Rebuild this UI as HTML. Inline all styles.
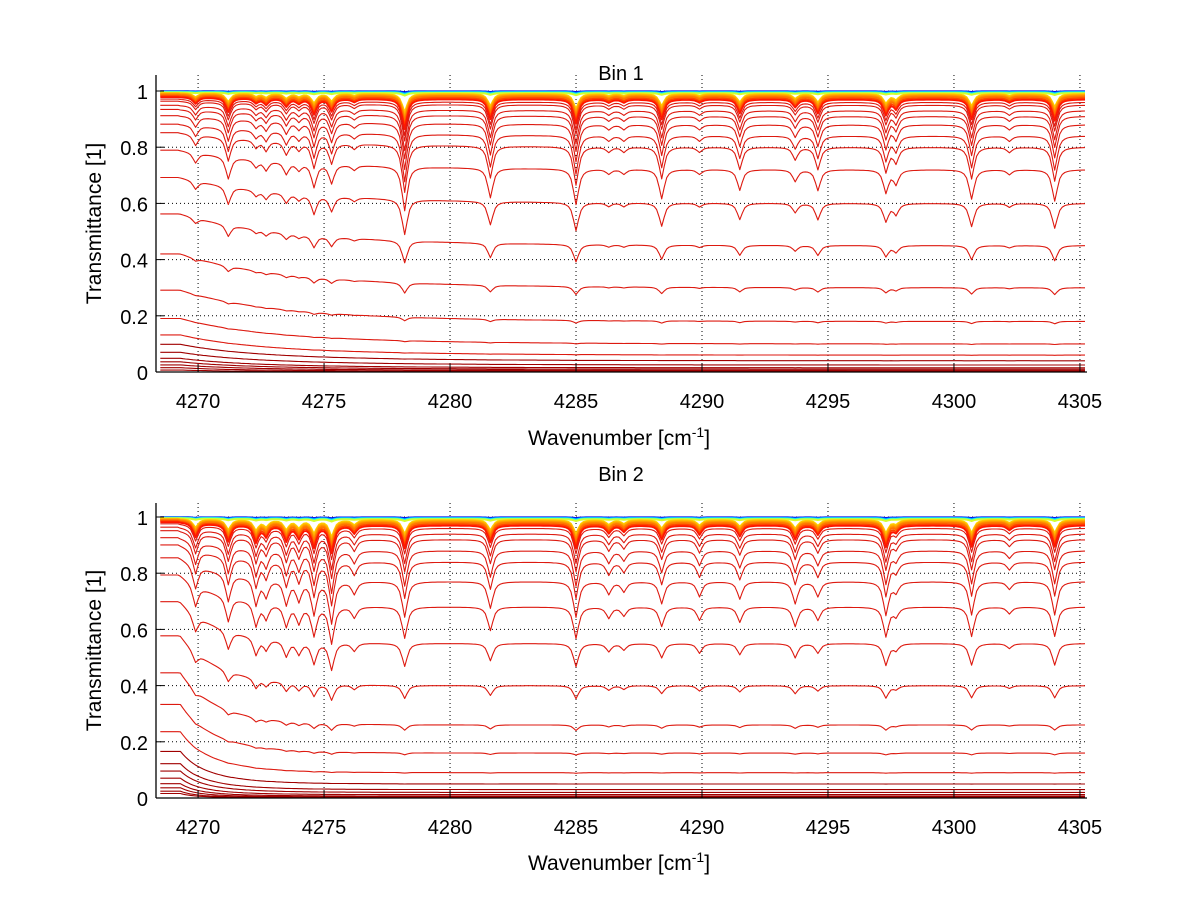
<!DOCTYPE html>
<html><head><meta charset="utf-8"><style>
body{margin:0;background:#fff;}
svg text{font-family:"Liberation Sans",sans-serif;fill:#000;}
</style></head><body>
<svg id="c" width="1200" height="901" viewBox="0 0 1200 901" xmlns="http://www.w3.org/2000/svg">
<rect width="1200" height="901" fill="#fff"/>
</svg>
<script>
// ---- data ----
const xTicks = [4270,4275,4280,4285,4290,4295,4300,4305];
const yTicks = [0,0.2,0.4,0.6,0.8,1];
const yTickLabels = ["0","0.2","0.4","0.6","0.8","1"];
const lineCenters = [4269.9,4271.2,4272.3,4272.7,4273.5,4274.0,4274.6,4275.3,4276.2,4278.2,4281.6,4285.0,4286.3,4286.9,4288.4,4289.9,4291.5,4293.7,4294.6,4297.3,4297.7,4300.7,4302.2,4304.0];
const depthsBin1 = [0.4,0.9,0.3,0.4,0.5,0.3,1.0,0.8,0.2,2.0,1.3,1.6,0.2,0.2,1.3,0.2,0.9,0.5,0.9,1.0,0.6,1.3,0.2,1.4];
const depthsBin2 = [0.9,1.1,1.1,0.7,1.0,0.8,1.4,1.8,0.5,1.5,1.1,1.5,0.5,0.4,0.9,0.6,0.7,0.9,0.6,1.4,0.4,1.4,0.3,1.4];
const levelsBin1 = [0.999,0.998,0.997,0.996,0.995,0.994,0.993,0.992,0.99,0.988,0.986,0.984,0.982,0.98,0.975,0.97,0.96,0.95,0.93,0.91,0.88,0.84,0.8,0.72,0.6,0.45,0.3,0.18,0.1,0.06,0.04,0.025,0.015,0.01,0.006,0.003,0.001];
const levelsBin2 = [0.999,0.998,0.997,0.996,0.995,0.994,0.993,0.992,0.99,0.988,0.986,0.984,0.982,0.98,0.975,0.97,0.96,0.94,0.92,0.88,0.84,0.77,0.68,0.55,0.4,0.26,0.16,0.09,0.05,0.03,0.02,0.012,0.007,0.004,0.002,0.001];
const rise = {bin1:0.28, bin2:0.4};
const riseWidth = {bin1:5, bin2:1.8};

const NS='http://www.w3.org/2000/svg';
const svg=document.getElementById('c');
function mk(t,a,p){const e=document.createElementNS(NS,t);for(const k in a)e.setAttribute(k,a[k]);(p||svg).appendChild(e);return e;}
const X0=4268.33,X1=4305.28,L=156,R=1087,PPU=281;
function sx(x){return L+(x-X0)/(X1-X0)*(R-L);}
function jet(t){
  const r=Math.min(1,Math.max(0,1.5-Math.abs(4*t-3))),g=Math.min(1,Math.max(0,1.5-Math.abs(4*t-2))),b=Math.min(1,Math.max(0,1.5-Math.abs(4*t-1)));
  return `rgb(${Math.round(r*255)},${Math.round(g*255)},${Math.round(b*255)})`;
}
function colorFor(T){
  if(T>0.991) return jet(0.1+(0.999-T)/0.008*0.55);
  if(T>0.965) return jet(0.66+(0.991-T)/0.026*0.24);
  if(T>0.05) return '#dd1a10';
  return '#a00000';
}
function drawAxes(name,y0,top){
  const g=mk('g',{});
  
  
  const yv=v=>y0-v*PPU;
  const grid=mk('g',{stroke:'#000','stroke-width':1,'stroke-dasharray':'1,3'},g);
  
  
  xTicks.forEach(t=>mk('line',{x1:sx(t),x2:sx(t),y1:top,y2:y0},grid));
  yTicks.forEach(t=>{if(t>0)mk('line',{x1:L,x2:R,y1:yv(t),y2:yv(t)},grid);});
  return {g,yv};
}
function finishAxes(ax,name,y0,top,title,titleY,xlabY){
  const g=mk('g',{});
  
  
  mk('line',{x1:L,x2:L,y1:top,y2:y0,stroke:'#000','stroke-width':1.3},g);
  mk('line',{x1:L,x2:R,y1:y0,y2:y0,stroke:'#000','stroke-width':1.3},g);
  xTicks.forEach(t=>{mk('line',{x1:sx(t),x2:sx(t),y1:y0,y2:y0-8,stroke:'#000'},g);
    const tx=mk('text',{x:sx(t),y:y0+36,'font-size':20,'text-anchor':'middle'},g);tx.textContent=t;
    });
  yTicks.forEach((t,i)=>{mk('line',{x1:L,x2:L+8,y1:ax.yv(t),y2:ax.yv(t),stroke:'#000'},g);
    const tx=mk('text',{x:L-8,y:ax.yv(t)+8,'font-size':20,'text-anchor':'end'},g);tx.textContent=yTickLabels[i];
    });
  const tt=mk('text',{x:621,y:titleY,'font-size':20,'text-anchor':'middle'},g);tt.textContent=title;
  
  const xl=mk('text',{x:619,y:xlabY,'font-size':21,'text-anchor':'middle'},g);
  xl.innerHTML='Wavenumber [cm<tspan dy="-8" font-size="14">-1</tspan><tspan dy="8">]</tspan>';
  
  const yc=(y0+top)/2;
  const yl=mk('text',{x:101,y:yc,'font-size':21,'text-anchor':'middle',transform:`rotate(-90 101 ${yc})`},g);
  yl.textContent='Transmittance [1]';
  
}
function drawSeries(ax,name,levels,depths,A,w,clipTop){
  const g=mk('g',{fill:'none','stroke-linejoin':'round'});
  
  
  const xs=[];for(let i=0;i<=367;i++)xs.push(4268.5+i*0.1);
  levels.forEach(T0=>{
    let dip=Math.sqrt(1-T0)*Math.pow(T0,1.3)*0.35;
    if(T0>0.991) dip*=0.15;
    let pts=[];
    xs.forEach(x=>{
      const e=x<4269.3?1-A:1-A*Math.exp(-(x-4269.3)/w);
      let T=Math.pow(T0,e);
      let s=0;lineCenters.forEach((c,k)=>{const d=(x-c)/0.12;s+=depths[k]/(1+d*d);});
      if(x<4269.3)s=0;
      T=T*Math.exp(-s*dip);
      pts.push(sx(x).toFixed(1)+','+Math.max(clipTop,ax.yv(T)).toFixed(1));
    });
    const p=mk('polyline',{points:pts.join(' '),stroke:colorFor(T0),'stroke-width':T0>0.965?1.8:1.1},g);
    
    
  });
}
const a1=drawAxes('bin1',372,75);
drawSeries(a1,'bin1',levelsBin1,depthsBin1,rise.bin1,riseWidth.bin1,75);
finishAxes(a1,'bin1',372,75,'Bin 1',80,445);
const a2=drawAxes('bin2',798,503);
drawSeries(a2,'bin2',levelsBin2,depthsBin2,rise.bin2,riseWidth.bin2,503);
finishAxes(a2,'bin2',798,503,'Bin 2',481,870);
</script>
</body></html>
